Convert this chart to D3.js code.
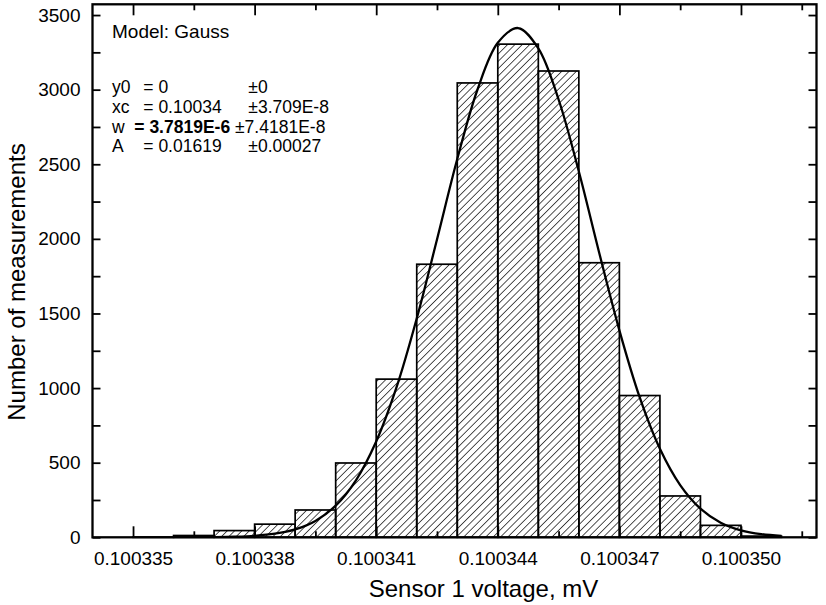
<!DOCTYPE html>
<html>
<head>
<meta charset="utf-8">
<script src="https://cdn.jsdelivr.net/npm/d3@7"></script>
<style>
  html, body { margin: 0; padding: 0; background: #fff; }
  svg { display: block; }
  text { font-family: "Liberation Sans", Arial, sans-serif; fill: #000; }
</style>
</head>
<body>
<svg id="chart" width="826" height="605"></svg>
<script>
// ---------- data ----------
const binStarts = [0.100335, 0.100336, 0.100337, 0.100338, 0.100339, 0.100340, 0.100341, 0.100342,
                   0.100343, 0.100344, 0.100345, 0.100346, 0.100347, 0.100348, 0.100349, 0.100350];
const binCounts = [2, 12, 45, 88, 183, 498, 1060, 1830, 3045, 3305, 3125, 1840, 950, 277, 80, 8];
const binWidth = 0.000001;

const fitX = [0.1003360, 0.1003365, 0.1003370, 0.1003375, 0.1003380, 0.1003385, 0.1003390, 0.1003395,
              0.1003400, 0.1003405, 0.1003410, 0.1003415, 0.1003420, 0.1003425, 0.1003430, 0.1003435,
              0.1003440, 0.1003445, 0.1003450, 0.1003455, 0.1003460, 0.1003465, 0.1003470, 0.1003475,
              0.1003480, 0.1003485, 0.1003490, 0.1003495, 0.1003500, 0.1003505, 0.1003510];
const fitY = [0, 0.5, 1.4, 3.9, 10, 24, 53, 110, 212, 382, 642, 1004, 1466, 1996, 2535, 3001,
              3314, 3413, 3277, 2934, 2451, 1909, 1387, 939, 593, 350, 192, 98, 47, 21, 9];

const xMajorTicks = [0.100335, 0.100338, 0.100341, 0.100344, 0.100347, 0.100350];
const xMinorTicks = [0.1003365, 0.1003395, 0.1003425, 0.1003455, 0.1003485, 0.1003515];
const yMajorTicks = [0, 500, 1000, 1500, 2000, 2500, 3000, 3500];
const yMinorTicks = [250, 750, 1250, 1750, 2250, 2750, 3250];

const xTitle = "Sensor 1 voltage, mV";
const yTitle = "Number of measurements";
const modelLabel = "Model: Gauss";
const fitParams = [
  { name: "y0", value: "= 0",         err: "±0",          bold: false },
  { name: "xc", value: "= 0.10034",   err: "±3.709E-8",   bold: false },
  { name: "w",  value: "= 3.7819E-6", err: "±7.4181E-8",  bold: true  },
  { name: "A",  value: "= 0.01619",   err: "±0.00027",    bold: false }
];

// ---------- layout ----------
const svg = d3.select("#chart");
const L = 92.5, R = 816.5, T = 4.3, B = 537.3;

const x = d3.scaleLinear().domain([0.100334, 0.1003518636]).range([L, R]);
const y = d3.scaleLinear().domain([0, 3572]).range([B, T]);

// hatch pattern
const defs = svg.append("defs");
defs.append("pattern")
  .attr("id", "hatch")
  .attr("patternUnits", "userSpaceOnUse")
  .attr("width", 5.2).attr("height", 5.2)
  .attr("patternTransform", "rotate(45)")
  .append("line")
  .attr("x1", 0).attr("y1", 0).attr("x2", 0).attr("y2", 5.2)
  .attr("stroke", "#000").attr("stroke-width", 1.35);

defs.append("clipPath").attr("id", "plotclip")
  .append("rect").attr("x", L).attr("y", T).attr("width", R - L).attr("height", B - T);

// bars
const bars = binStarts.map((s, i) => ({ x0: s, x1: s + binWidth, c: binCounts[i] }));
svg.append("g")
  .selectAll("rect")
  .data(bars)
  .join("rect")
  .attr("x", d => x(d.x0))
  .attr("y", d => y(d.c))
  .attr("width", d => x(d.x1) - x(d.x0))
  .attr("height", d => y(0) - y(d.c))
  .attr("fill", "url(#hatch)")
  .attr("stroke", "#000")
  .attr("stroke-width", 1.7);

// fit curve
const line = d3.line()
  .x((d, i) => x(fitX[i]))
  .y(d => y(d))
  .curve(d3.curveCatmullRom.alpha(0.5));
svg.append("path")
  .attr("clip-path", "url(#plotclip)")
  .attr("d", line(fitY))
  .attr("fill", "none")
  .attr("stroke", "#000")
  .attr("stroke-width", 2.3);

// axes
const fmt = d3.format(".6f");
const styleAxis = g => {
  g.select(".domain").remove();
  g.selectAll(".tick line").attr("stroke", "#000").attr("stroke-width", 1.8);
  g.selectAll("text").attr("font-size", 19).attr("font-family", "'Liberation Sans', Arial, sans-serif").attr("fill", "#000");
};

svg.append("g").attr("transform", `translate(0,${B})`)
  .call(d3.axisBottom(x).tickValues(xMajorTicks).tickFormat(fmt).tickSize(-11).tickPadding(14.5))
  .call(styleAxis);
svg.append("g").attr("transform", `translate(0,${B})`)
  .call(d3.axisBottom(x).tickValues(xMinorTicks).tickFormat("").tickSize(-6))
  .call(styleAxis);
svg.append("g").attr("transform", `translate(0,${T})`)
  .call(d3.axisTop(x).tickValues(xMajorTicks).tickFormat("").tickSize(-11))
  .call(styleAxis);
svg.append("g").attr("transform", `translate(0,${T})`)
  .call(d3.axisTop(x).tickValues(xMinorTicks).tickFormat("").tickSize(-6))
  .call(styleAxis);

svg.append("g").attr("transform", `translate(${L},0)`)
  .call(d3.axisLeft(y).tickValues(yMajorTicks).tickFormat(d3.format("d")).tickSize(-8).tickPadding(12))
  .call(styleAxis);
svg.append("g").attr("transform", `translate(${L},0)`)
  .call(d3.axisLeft(y).tickValues(yMinorTicks).tickFormat("").tickSize(-8))
  .call(styleAxis);
svg.append("g").attr("transform", `translate(${R},0)`)
  .call(d3.axisRight(y).tickValues(yMajorTicks).tickFormat("").tickSize(-8))
  .call(styleAxis);
svg.append("g").attr("transform", `translate(${R},0)`)
  .call(d3.axisRight(y).tickValues(yMinorTicks).tickFormat("").tickSize(-8))
  .call(styleAxis);

// frame
svg.append("rect")
  .attr("x", L).attr("y", T).attr("width", R - L).attr("height", B - T)
  .attr("fill", "none").attr("stroke", "#000").attr("stroke-width", 2.3);

// titles
svg.append("text")
  .attr("x", 483.5).attr("y", 597)
  .attr("text-anchor", "middle").attr("font-size", 24)
  .text(xTitle);
svg.append("text")
  .attr("transform", "translate(25,282) rotate(-90)")
  .attr("text-anchor", "middle").attr("font-size", 24)
  .text(yTitle);

// annotation
const annFont = 17.5;
svg.append("text").attr("x", 112).attr("y", 38.3).attr("font-size", 19).text(modelLabel);
const rowY = [93.3, 112.9, 132.5, 152.1];
fitParams.forEach((p, i) => {
  svg.append("text").attr("x", 112).attr("y", rowY[i]).attr("font-size", annFont).text(p.name);
  if (p.bold) {
    const t = svg.append("text").attr("x", 134.3).attr("y", rowY[i]).attr("font-size", annFont);
    t.append("tspan").attr("font-weight", "bold").text(p.value);
    t.append("tspan").text(" " + p.err);
  } else {
    svg.append("text").attr("x", 143.3).attr("y", rowY[i]).attr("font-size", annFont).text(p.value);
    svg.append("text").attr("x", 248.3).attr("y", rowY[i]).attr("font-size", annFont).text(p.err);
  }
});
</script>
</body>
</html>
